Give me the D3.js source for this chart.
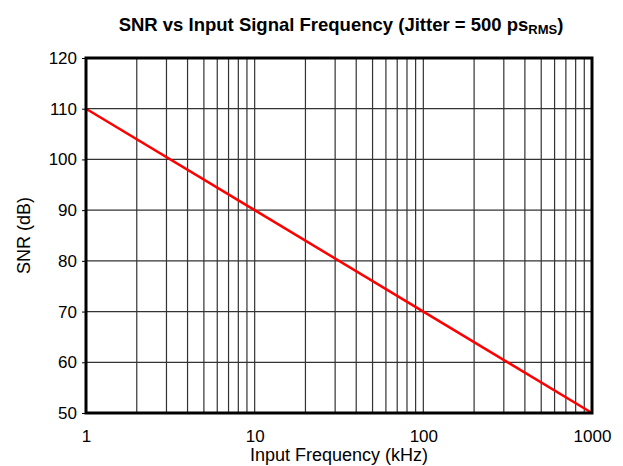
<!DOCTYPE html>
<html>
<head>
<meta charset="utf-8">
<script src="https://cdn.jsdelivr.net/npm/d3@7"></script>
<style>
  body { margin: 0; background: #fff; }
  text { font-family: Arial, "Liberation Sans", sans-serif; }
</style>
</head>
<body>
<div id="chart"></div>
<script>
// chart data
const freqKHz = [1, 10, 100, 1000];
const snrDb = [110, 90, 70, 50];
const xTickValues = [1, 10, 100, 1000];
const yTickValues = [50, 60, 70, 80, 90, 100, 110, 120];

const width = 623;
const height = 466;
const margin = { top: 58, right: 31, bottom: 53, left: 86 };
const plotW = width - margin.left - margin.right;
const plotH = height - margin.top - margin.bottom;

const svg = d3.select("#chart").append("svg")
    .attr("width", width)
    .attr("height", height);

const x = d3.scaleLog().domain([1, 1000]).range([0, plotW]);
const y = d3.scaleLinear().domain([50, 120]).range([plotH, 0]);

const g = svg.append("g")
    .attr("transform", `translate(${margin.left},${margin.top})`);

// vertical grid lines (2..9 per decade)
const gridX = [];
for (let dec = 1; dec < 1000; dec *= 10) {
    for (let m = 2; m <= 9; m++) gridX.push(dec * m);
}
gridX.push(10, 100);
g.selectAll(".vgrid").data(gridX).enter().append("line")
    .attr("class", "vgrid")
    .attr("x1", d => x(d)).attr("x2", d => x(d))
    .attr("y1", 0).attr("y2", plotH)
    .attr("stroke", "#333")
    .attr("stroke-width", 1.2);

// horizontal grid lines
g.selectAll(".hgrid").data(yTickValues.slice(1, -1)).enter().append("line")
    .attr("class", "hgrid")
    .attr("x1", 0).attr("x2", plotW)
    .attr("y1", d => y(d)).attr("y2", d => y(d))
    .attr("stroke", "#333")
    .attr("stroke-width", 1.2);

// the SNR line
const line = d3.line()
    .x((d, i) => x(freqKHz[i]))
    .y(d => y(d));
g.append("path")
    .datum(snrDb)
    .attr("d", line)
    .attr("fill", "none")
    .attr("stroke", "#ff0000")
    .attr("stroke-width", 2.5);

// frame
g.append("rect")
    .attr("x", 0).attr("y", 0)
    .attr("width", plotW).attr("height", plotH)
    .attr("fill", "none")
    .attr("stroke", "#000")
    .attr("stroke-width", 3);

// y axis
const yAxis = d3.axisLeft(y).tickValues(yTickValues).tickSize(4).tickPadding(5);
const yg = g.append("g").call(yAxis);
yg.select(".domain").remove();
yg.selectAll("text").attr("font-size", 17).attr("fill", "#000")
    .attr("font-family", "Arial, 'Liberation Sans', sans-serif");

// x axis
const xAxis = d3.axisBottom(x).tickValues(xTickValues).tickFormat(d3.format("d")).tickSize(0).tickPadding(17);
const xg = g.append("g").attr("transform", `translate(0,${plotH})`).call(xAxis);
xg.select(".domain").remove();
xg.selectAll("text").attr("font-size", 17).attr("fill", "#000")
    .attr("font-family", "Arial, 'Liberation Sans', sans-serif");

// axis titles
svg.append("text")
    .attr("x", margin.left + plotW / 2)
    .attr("y", 461)
    .attr("text-anchor", "middle")
    .attr("font-size", 18)
    .text("Input Frequency (kHz)");

svg.append("text")
    .attr("transform", `translate(30,${margin.top + plotH / 2}) rotate(-90)`)
    .attr("text-anchor", "middle")
    .attr("font-size", 18)
    .text("SNR (dB)");

// chart title with subscript
const title = svg.append("text")
    .attr("x", margin.left + plotW / 2 + 2)
    .attr("y", 31)
    .attr("text-anchor", "middle")
    .attr("font-size", 18.5)
    .attr("font-weight", "bold");
title.append("tspan").text("SNR vs Input Signal Frequency (Jitter = 500 ps");
title.append("tspan").attr("font-size", 13).attr("dy", 3).text("RMS");
title.append("tspan").attr("dy", -3).text(")");
</script>
</body>
</html>
